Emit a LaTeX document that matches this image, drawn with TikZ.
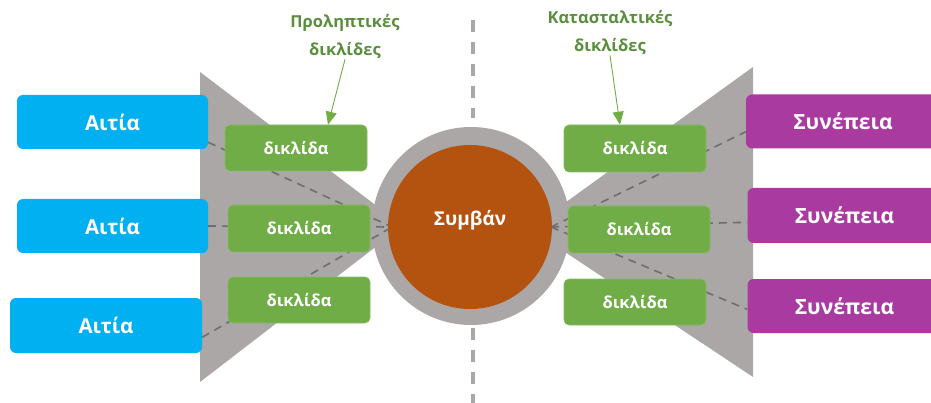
\documentclass[tikz,border=0pt]{standalone}
\usepackage{fontspec}
\setmainfont{Open Sans}
\usetikzlibrary{arrows.meta,calc}
\definecolor{cause}{HTML}{00B0F0}
\definecolor{conseq}{HTML}{A93A9F}
\definecolor{valve}{HTML}{70AD47}
\definecolor{lbl}{HTML}{5B8E3C}
\definecolor{funnel}{HTML}{ABA7A6}
\definecolor{event}{HTML}{B3530F}
\definecolor{conn}{HTML}{6E6E6E}
\definecolor{axis}{HTML}{A8A8A8}
\tikzset{
  causebox/.style={fill=cause, rounded corners=6pt, minimum height=54pt, text=white, font=\bfseries\fontsize{20.5}{24}\selectfont},
  conbox/.style={fill=conseq, rounded corners=6pt, minimum width=194pt, minimum height=54pt, text=white, font=\bfseries\fontsize{21}{24}\selectfont},
  valvebox/.style={fill=valve, draw=valve!85!white, line width=0.6pt, rounded corners=5pt, minimum width=142pt, minimum height=46pt, text=white, font=\bfseries\fontsize{16.5}{18}\selectfont},
  lab/.style={text=lbl, align=center, font=\bfseries\fontsize{16.5}{28}\selectfont},
  connline/.style={draw=conn, line width=1.6pt, dash pattern=on 8pt off 6pt},
  axisline/.style={draw=axis, line width=3.5pt, dash pattern=on 12pt off 10pt},
  arr/.style={draw=valve, line width=0.9pt, -{Triangle[width=11pt,length=13pt]}}
}
\begin{document}
\begin{tikzpicture}[x=1pt,y=-1pt]
\useasboundingbox (0,0) rectangle (931,403);
% funnels
\fill[funnel] (200,72) -- (382,210) -- (382,242) -- (200,382) -- cycle;
\fill[funnel] (753,67) -- (562,205) -- (562,250) -- (753,377) -- cycle;
% vertical axis
\draw[axisline] (473,20) -- (473,118);
\draw[axisline] (473,328) -- (473,403);
% ring
\fill[funnel] (471,226) circle[radius=99];
% nodes
\node[causebox, minimum width=191pt] (c1) at (112.5,122) {Αιτία};
\node[causebox, minimum width=191pt] (c2) at (112.5,226) {Αιτία};
\node[causebox, minimum width=192pt, minimum height=55pt] (c3) at (106,325.5) {Αιτία};
\coordinate (hubL) at (392,227);
\coordinate (hubR) at (551,227);
\node[conbox] (p1) at (843,121.5) {Συνέπεια};
\node[conbox, minimum height=55pt] (p2) at (844.5,215.5) {Συνέπεια};
\node[conbox] (p3) at (844.5,306) {Συνέπεια};
% connectors
\draw[connline] (c1.-12) -- (hubL);
\draw[connline] (c2.east) -- (hubL);
\draw[connline] (c3.-7) -- (hubL);
\draw[connline] (hubR) -- (p1.186);
\draw[connline] (hubR) -- (p2.184);
\draw[connline] (hubR) -- (p3.182);
% event
\node[circle, fill=event, minimum size=164pt, inner sep=0pt] (ev) at (470,227) {};
\node[text=white, font=\bfseries\fontsize{19}{22}\selectfont] (evt) at (470,220) {Συμβάν};
% valves
\node[valvebox] (gl1) at (296,148) {δικλίδα};
\node[valvebox, minimum height=47pt] (gl2) at (299,228.5) {δικλίδα};
\node[valvebox] (gl3) at (299,300) {δικλίδα};
\node[valvebox, minimum height=47pt] (gr1) at (635,148.5) {δικλίδα};
\node[valvebox, minimum height=47pt] (gr2) at (639,229.5) {δικλίδα};
\node[valvebox] (gr3) at (635,302) {δικλίδα};
% labels
\node[lab, inner sep=1pt] (lab1) at (345,36) {Προληπτικές\\δικλίδες};
\node[lab, inner sep=1pt] (lab2) at (610,32) {Κατασταλτικές\\δικλίδες};
\draw[arr] (lab1.south) -- ([xshift=32pt]gl1.north);
\draw[arr] (lab2.south) -- ([xshift=-15pt]gr1.north);
\end{tikzpicture}
\end{document}
